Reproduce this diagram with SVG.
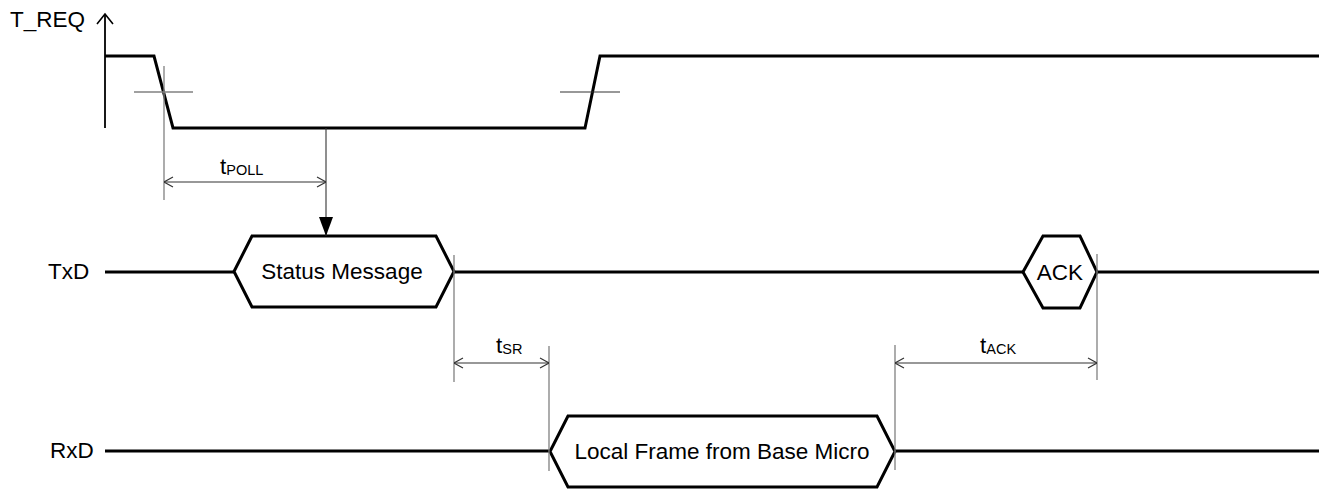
<svg xmlns="http://www.w3.org/2000/svg" width="1319" height="490" viewBox="0 0 1319 490">
<style>
text{font-family:"Liberation Sans",Arial,sans-serif;font-size:22.5px;fill:#000}
.sub{font-size:14.5px}
.sig{fill:none;stroke:#000;stroke-width:3;stroke-linejoin:miter}
.hex{fill:#fff;stroke:#000;stroke-width:3}
.grey{stroke:#808080;stroke-width:1.3;fill:none}
.dim{stroke:#333;stroke-width:1.1;fill:none}
</style>
<defs>
<marker id="open" viewBox="0 0 10 12" refX="10" refY="6" markerWidth="10" markerHeight="12" markerUnits="userSpaceOnUse" orient="auto-start-reverse">
<path d="M1,1 L10,6 L1,11" fill="none" stroke="#333" stroke-width="1.1"/>
</marker>
<marker id="solid" viewBox="0 0 19 14" refX="19" refY="7" markerWidth="19" markerHeight="14" markerUnits="userSpaceOnUse" orient="auto">
<path d="M0,0 L19,7 L0,14 Z" fill="#000"/>
</marker>
</defs>

<g id="t_req">
<text x="10" y="27">T_REQ</text>
<line x1="105" y1="128" x2="105" y2="14" stroke="#000" stroke-width="1.8"/>
<path d="M97,24 L105,14 L113,24" fill="none" stroke="#000" stroke-width="1.6"/>
<path class="sig" d="M105,56 L154,56 L173,128 L585,128 L600,56 L1319,56"/>
<line class="grey" x1="134" y1="92" x2="193" y2="92"/>
<line class="grey" x1="164" y1="66" x2="164" y2="200"/>
<line class="dim" x1="560" y1="92" x2="620" y2="92"/>
</g>

<g id="txd">
<text x="48" y="279">TxD</text>
<path class="sig" d="M105,272 L234,272"/>
<path class="sig" d="M454,272 L1023,272"/>
<path class="sig" d="M1097,272 L1319,272"/>
</g>

<g id="status_message">
<polygon class="hex" points="234,271.5 252,236 436,236 454,271.5 436,307 252,307"/>
<text x="342" y="279" text-anchor="middle">Status Message</text>
</g>

<g id="ack">
<polygon class="hex" points="1023,272 1043,236 1080,236 1097,272 1080,308 1043,308"/>
<text x="1060" y="280" text-anchor="middle">ACK</text>
</g>

<g id="rxd">
<text x="50" y="458">RxD</text>
<path class="sig" d="M105,451 L550,451"/>
<path class="sig" d="M895,451 L1319,451"/>
</g>

<g id="local_frame">
<polygon class="hex" points="550,451.5 568,416 877,416 895,451.5 877,487 568,487"/>
<text x="722" y="459" text-anchor="middle">Local Frame from Base Micro</text>
</g>

<g id="connectors">
<line class="dim" x1="326" y1="128" x2="326" y2="236" marker-end="url(#solid)"/>
<line class="dim" x1="164" y1="182" x2="326" y2="182" marker-start="url(#open)" marker-end="url(#open)"/>
<line class="grey" x1="454" y1="255" x2="454" y2="382"/>
<line class="grey" x1="549" y1="346" x2="549" y2="471"/>
<line class="dim" x1="454" y1="363" x2="549" y2="363" marker-start="url(#open)" marker-end="url(#open)"/>
<line class="grey" x1="1097" y1="254" x2="1097" y2="380"/>
<line class="grey" x1="895" y1="345" x2="895" y2="470"/>
<line class="dim" x1="895" y1="363" x2="1097" y2="363" marker-start="url(#open)" marker-end="url(#open)"/>
</g>

<g id="labels">
<text x="220" y="174">t<tspan class="sub" dy="1">POLL</tspan></text>
<text x="496" y="353">t<tspan class="sub" dy="1">SR</tspan></text>
<text x="980" y="353">t<tspan class="sub" dy="1">ACK</tspan></text>
</g>
</svg>
